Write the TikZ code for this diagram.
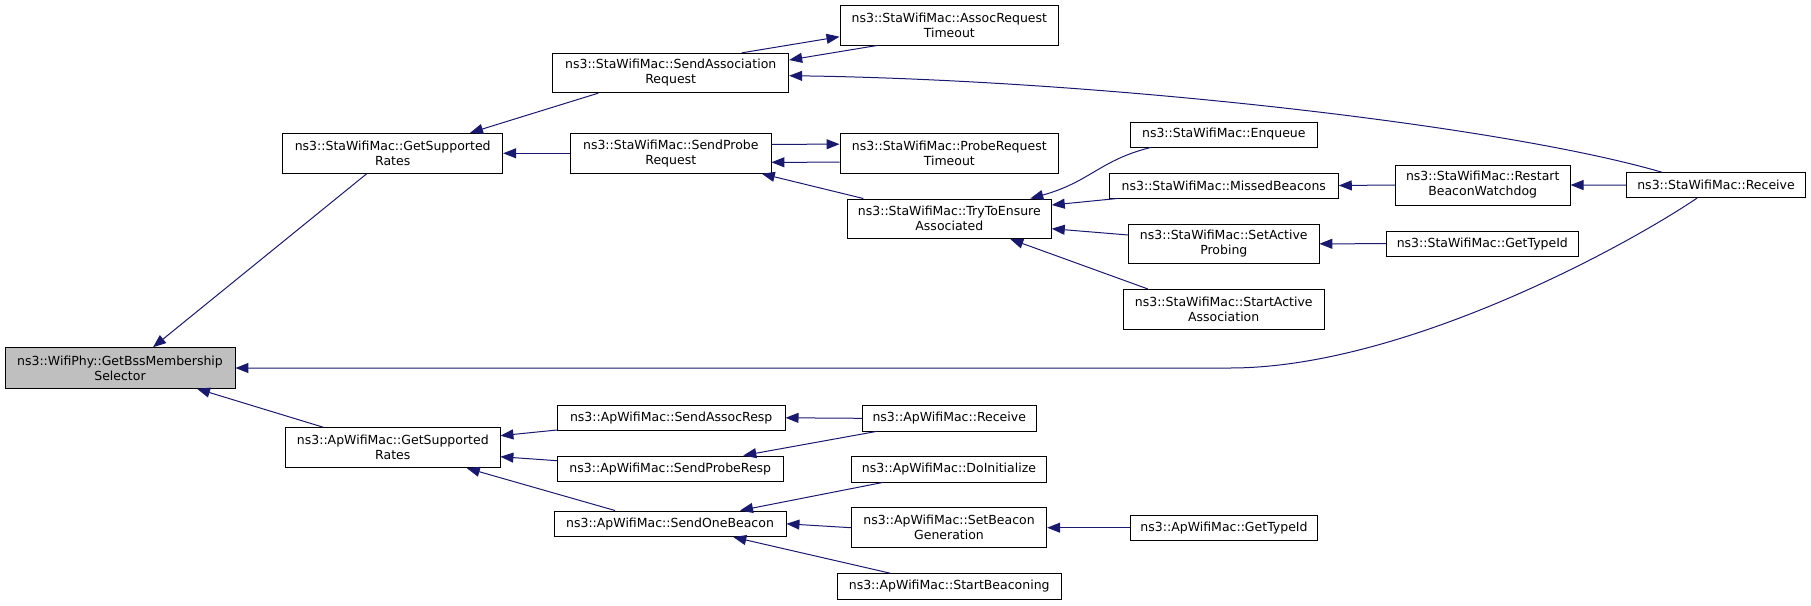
\documentclass[tikz,border=0pt]{standalone}
\usepackage{fontspec}
\setmainfont{DejaVu Sans}
\usetikzlibrary{arrows.meta}
\definecolor{edgeblue}{HTML}{191970}
\definecolor{hilite}{HTML}{BFBFBF}
\begin{document}
\begin{tikzpicture}[x=1pt,y=-1pt,
  box/.style={draw=black,line width=0.9pt,fill=white,inner sep=0pt,align=center,
    font=\fontsize{12.5}{15}\selectfont},
  edge/.style={draw=edgeblue,line width=1pt,-{Triangle[length=13pt,width=10pt]}}]
\useasboundingbox (0,0) rectangle (1811,605);
% nodes
\node[box,fill=hilite,minimum width=230pt,minimum height=40.6pt] (bss) at (120,368) {ns3::WifiPhy::GetBssMembership\\Selector};
\node[box,minimum width=220pt,minimum height=40pt] (stagsr) at (392.7,153.3) {ns3::StaWifiMac::GetSupported\\Rates};
\node[box,minimum width=236pt,minimum height=39.4pt] (sendassoc) at (670.7,73) {ns3::StaWifiMac::SendAssociation\\Request};
\node[box,minimum width=200.3pt,minimum height=40pt] (sendprobe) at (670.8,153.3) {ns3::StaWifiMac::SendProbe\\Request};
\node[box,minimum width=218.7pt,minimum height=40pt] (assoctimeout) at (949.3,25) {ns3::StaWifiMac::AssocRequest\\Timeout};
\node[box,minimum width=218.7pt,minimum height=39.7pt] (probetimeout) at (949.3,153.2) {ns3::StaWifiMac::ProbeRequest\\Timeout};
\node[box,minimum width=204pt,minimum height=39.7pt] (tryensure) at (949.3,218.8) {ns3::StaWifiMac::TryToEnsure\\Associated};
\node[box,minimum width=187pt,minimum height=25pt] (enqueue) at (1223.8,134.5) {ns3::StaWifiMac::Enqueue};
\node[box,minimum width=229pt,minimum height=25pt] (missed) at (1223.8,185.5) {ns3::StaWifiMac::MissedBeacons};
\node[box,minimum width=190.3pt,minimum height=39.7pt] (setactive) at (1223.8,243.8) {ns3::StaWifiMac::SetActive\\Probing};
\node[box,minimum width=201.3pt,minimum height=39.7pt] (startactive) at (1223.7,309.2) {ns3::StaWifiMac::StartActive\\Association};
\node[box,minimum width=174.7pt,minimum height=40pt] (restart) at (1482.7,185) {ns3::StaWifiMac::Restart\\BeaconWatchdog};
\node[box,minimum width=192pt,minimum height=25.3pt] (stagettype) at (1482.3,243.7) {ns3::StaWifiMac::GetTypeId};
\node[box,minimum width=178.6pt,minimum height=25pt] (stareceive) at (1716,185.2) {ns3::StaWifiMac::Receive};
\node[box,minimum width=214.3pt,minimum height=40pt] (apgsr) at (392.8,447.7) {ns3::ApWifiMac::GetSupported\\Rates};
\node[box,minimum width=227.7pt,minimum height=25.7pt] (sendassocresp) at (671.2,417.8) {ns3::ApWifiMac::SendAssocResp};
\node[box,minimum width=226pt,minimum height=25.7pt] (sendproberesp) at (670.3,468.8) {ns3::ApWifiMac::SendProbeResp};
\node[box,minimum width=232pt,minimum height=25.7pt] (sendbeacon) at (670,523.8) {ns3::ApWifiMac::SendOneBeacon};
\node[box,minimum width=173.7pt,minimum height=25.3pt] (apreceive) at (949.2,418.3) {ns3::ApWifiMac::Receive};
\node[box,minimum width=195.4pt,minimum height=25.3pt] (doinit) at (949,469.3) {ns3::ApWifiMac::DoInitialize};
\node[box,minimum width=195.4pt,minimum height=40pt] (setbeacon) at (949,527.7) {ns3::ApWifiMac::SetBeacon\\Generation};
\node[box,minimum width=224.3pt,minimum height=25.3pt] (startbeaconing) at (949.2,586.3) {ns3::ApWifiMac::StartBeaconing};
\node[box,minimum width=187.4pt,minimum height=25.3pt] (apgettype) at (1224,527.7) {ns3::ApWifiMac::GetTypeId};
% edges
\draw[edge] ([xshift=-26]stagsr.south) -- ([xshift=33]bss.north);
\draw[edge] ([xshift=-19]stareceive.south) .. controls (1620,250) and (1400,368) .. (1230,368) -- (bss.east);
\draw[edge] ([xshift=-69.5]apgsr.north) -- ([xshift=77]bss.south);
\draw[edge] ([xshift=-72.4]sendassoc.south) -- ([xshift=77.3]stagsr.north);
\draw[edge] (sendprobe.west) -- (stagsr.east);
\draw[edge] ([xshift=71]sendassoc.north) -- ([yshift=-11.7]assoctimeout.west);
\draw[edge] ([xshift=-72]assoctimeout.south) -- ([yshift=13]sendassoc.east);
\draw[edge] ([xshift=-54]stareceive.north) .. controls (1500,125) and (1100,80) .. ([yshift=-2.7]sendassoc.east);
\draw[edge] ([yshift=9]sendprobe.east) -- ([yshift=9]probetimeout.west);
\draw[edge] ([yshift=-9]probetimeout.west) -- ([yshift=-9]sendprobe.east);
\draw[edge] ([xshift=-86]tryensure.north) -- ([xshift=91]sendprobe.south);
\draw[edge] ([xshift=-73]enqueue.south) .. controls (1100,160) and (1090,182) .. ([xshift=81]tryensure.north);
\draw[edge] ([xshift=-106]missed.south) -- ([yshift=13.8]tryensure.east);
\draw[edge] ([yshift=8.8]setactive.west) -- ([yshift=-9.9]tryensure.east);
\draw[edge] ([xshift=-76]startactive.north) -- ([xshift=61]tryensure.south);
\draw[edge] (restart.west) -- (missed.east);
\draw[edge] (stareceive.west) -- (restart.east);
\draw[edge] (stagettype.west) -- (setactive.east);
\draw[edge] ([yshift=-12.2]sendassocresp.west) -- ([yshift=12]apgsr.east);
\draw[edge] ([yshift=8.1]sendproberesp.west) -- ([yshift=-9]apgsr.east);
\draw[edge] ([xshift=-55]sendbeacon.north) -- ([xshift=74]apgsr.south);
\draw[edge] (apreceive.west) -- (sendassocresp.east);
\draw[edge] ([xshift=-72.5]apreceive.south) -- ([xshift=73]sendproberesp.north);
\draw[edge] ([xshift=-66]doinit.south) -- ([xshift=70]sendbeacon.north);
\draw[edge] (setbeacon.west) -- (sendbeacon.east);
\draw[edge] ([xshift=-59]startbeaconing.north) -- ([xshift=63.3]sendbeacon.south);
\draw[edge] (apgettype.west) -- (setbeacon.east);
\end{tikzpicture}
\end{document}
